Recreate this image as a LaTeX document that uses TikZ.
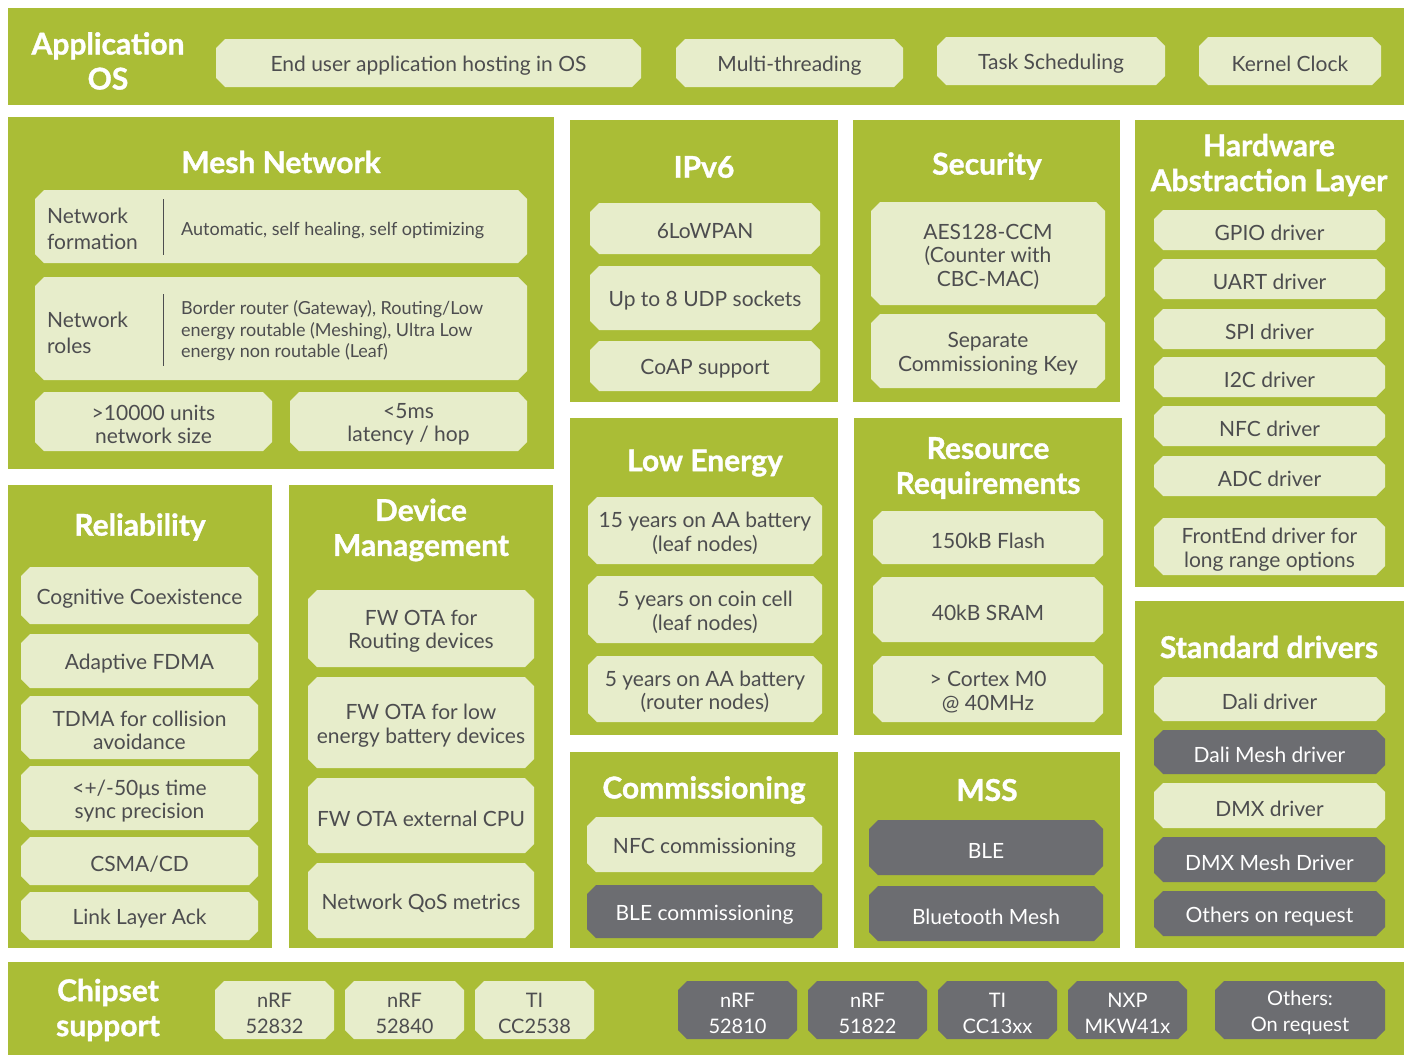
\documentclass[tikz,border=0pt]{standalone}
\usepackage{fontspec}
\setmainfont{Lato}
\newfontfamily\ttlfont[BoldFeatures={FakeBold=1.2}]{Lato}
\usetikzlibrary{shapes.misc}
\definecolor{pgreen}{RGB}{170,189,54}
\definecolor{plight}{RGB}{231,237,203}
\definecolor{pdark}{RGB}{108,109,113}
\definecolor{ptext}{RGB}{77,77,79}
\tikzset{
  panel/.style={rectangle, fill=pgreen, inner sep=0pt, outer sep=0pt},
  lightbox/.style={chamfered rectangle, chamfered rectangle xsep=9pt, chamfered rectangle angle=45,
    fill=plight, inner sep=0pt, outer sep=0pt, align=center, text=ptext,
    font=\fontsize{21}{23.5}\selectfont},
  darkbox/.style={lightbox, fill=pdark, text=white},
  ttl/.style={text=white, align=center, inner sep=0pt, font=\ttlfont\bfseries\fontsize{30}{35}\selectfont},
  lbl/.style={anchor=west, align=left, inner sep=0pt, text=ptext, font=\fontsize{21}{26}\selectfont},
  sml/.style={anchor=west, align=left, inner sep=0pt, text=ptext, font=\fontsize{18}{21.5}\selectfont},
  divider/.style={draw=ptext, line width=1pt},
  chip/.style={font=\fontsize{20}{26}\selectfont},
}
% \bx[style]{name}{x1}{y1}{x2}{y2}{text}: box, then its text nudged down
\newcommand\bx[7][lightbox]{%
  \pgfmathsetmacro\bxw{#5-#3}\pgfmathsetmacro\bxh{#6-#4}%
  \pgfmathsetmacro\bxcx{(#3+#5)/2}\pgfmathsetmacro\bxcy{(#4+#6)/2}%
  \node[#1, minimum width=\bxw pt, minimum height=\bxh pt] (#2) at (\bxcx,\bxcy) {\strut};
  \node[#1, shape=rectangle, fill=none, draw=none, inner sep=0pt, minimum width=0pt, minimum height=0pt] (#2-t) at ([yshift=-3pt]#2.center) {#7};}
\begin{document}
\begin{tikzpicture}[x=1pt,y=-1pt]
\useasboundingbox[fill=white] (0,0) rectangle (1409,1055);

% ---------- Application OS ----------
\bx[panel]{appp}{8}{8}{1404}{105}{}
\node[ttl] (appt) at (108,61) {Application\\OS};
\bx{app1}{216}{39}{641}{87}{End user application hosting in OS}
\bx{app2}{676}{39}{903}{87}{Multi-threading}
\bx{app3}{937}{37}{1165}{85}{Task Scheduling}
\bx{app4}{1199}{37}{1381}{85}{Kernel Clock}

% ---------- Mesh Network ----------
\bx[panel]{meshp}{8}{117}{554}{469}{}
\node[ttl] (mesht) at (281,162) {Mesh Network};
\bx{mesh1}{35}{190}{527}{263}{}
\bx{mesh2}{35}{277}{527}{380}{}
\bx{mesh3}{35}{392}{272}{451}{>10000 units\\network size}
\bx{mesh4}{290}{392}{527}{451}{<5ms\\latency / hop}
\node[lbl] (nf) at (47,229) {Network\\formation};
\draw[divider] (163,199) -- (163,255);
\node[sml] (nfd) at (181,231) {Automatic, self healing, self optimizing};
\node[lbl] (nr) at (47,333) {Network\\roles};
\draw[divider] (163,294) -- (163,366);
\node[sml] (nrd) at (181,331) {Border router (Gateway), Routing/Low\\energy routable (Meshing), Ultra Low\\energy non routable (Leaf)};

% ---------- IPv6 ----------
\bx[panel]{ipp}{570}{120}{838}{402}{}
\node[ttl] (ipt) at (704,167) {IPv6};
\bx{ip1}{590}{203}{820}{254}{6LoWPAN}
\bx{ip2}{590}{266}{820}{330}{Up to 8 UDP sockets}
\bx{ip3}{590}{341}{820}{391}{CoAP support}

% ---------- Security ----------
\bx[panel]{secp}{853}{120}{1120}{402}{}
\node[ttl] (sect) at (987,166) {Security};
\bx{sec1}{871}{202}{1105}{305}{AES128-CCM\\(Counter with\\CBC-MAC)}
\bx{sec2}{871}{314}{1105}{388}{Separate\\Commissioning Key}

% ---------- HAL ----------
\bx[panel]{halp}{1135}{120}{1404}{587}{}
\node[ttl] (halt) at (1269,165) {Hardware\\Abstraction Layer};
\bx{hal1}{1154}{210}{1385}{250}{GPIO driver}
\bx{hal2}{1154}{259}{1385}{299}{UART driver}
\bx{hal3}{1154}{309}{1385}{349}{SPI driver}
\bx{hal4}{1154}{357}{1385}{397}{I2C driver}
\bx{hal5}{1154}{406}{1385}{446}{NFC driver}
\bx{hal6}{1154}{456}{1385}{496}{ADC driver}
\bx{hal7}{1154}{518}{1385}{575}{FrontEnd driver for\\long range options}

% ---------- Reliability ----------
\bx[panel]{relp}{8}{485}{272}{948}{}
\node[ttl] (relt) at (140,527) {Reliability};
\bx{rel1}{21}{567}{258}{624}{Cognitive Coexistence}
\bx{rel2}{21}{634}{258}{688}{Adaptive FDMA}
\bx{rel3}{21}{696}{258}{759}{TDMA for collision\\avoidance}
\bx{rel4}{21}{766}{258}{830}{<+/-50μs time\\sync precision}
\bx{rel5}{21}{837}{258}{885}{CSMA/CD}
\bx{rel6}{21}{892}{258}{940}{Link Layer Ack}

% ---------- Device Management ----------
\bx[panel]{devp}{289}{485}{553}{948}{}
\node[ttl] (devt) at (421,530) {Device\\Management};
\bx{dev1}{308}{590}{534}{667}{FW OTA for\\Routing devices}
\bx{dev2}{308}{677}{534}{768}{FW OTA for low\\energy battery devices}
\bx{dev3}{308}{778}{534}{853}{FW OTA external CPU}
\bx{dev4}{308}{863}{534}{938}{Network QoS metrics}

% ---------- Low Energy ----------
\bx[panel]{lep}{570}{418}{838}{735}{}
\node[ttl] (let) at (705,463) {Low Energy};
\bx{le1}{588}{497}{822}{564}{15 years on AA battery\\(leaf nodes)}
\bx{le2}{588}{576}{822}{643}{5 years on coin cell\\(leaf nodes)}
\bx{le3}{588}{656}{822}{722}{5 years on AA battery\\(router nodes)}

% ---------- Resource Requirements ----------
\bx[panel]{resp}{854}{418}{1122}{735}{}
\node[ttl] (rest) at (988,468) {Resource\\Requirements};
\bx{res1}{873}{511}{1103}{564}{150kB Flash}
\bx{res2}{873}{577}{1103}{642}{40kB SRAM}
\bx{res3}{873}{656}{1103}{722}{> Cortex M0\\@ 40MHz}

% ---------- Commissioning ----------
\bx[panel]{comp}{570}{752}{838}{948}{}
\node[ttl] (comt) at (704,790) {Commissioning};
\bx{com1}{587}{817}{822}{872}{NFC commissioning}
\bx[darkbox]{com2}{587}{885}{822}{938}{BLE commissioning}

% ---------- MSS ----------
\bx[panel]{mssp}{854}{752}{1120}{948}{}
\node[ttl] (msst) at (987,790) {MSS};
\bx[darkbox]{mss1}{869}{820}{1103}{875}{BLE}
\bx[darkbox]{mss2}{869}{886}{1103}{941}{Bluetooth Mesh}

% ---------- Standard drivers ----------
\bx[panel]{stdp}{1135}{601}{1404}{948}{}
\node[ttl] (stdt) at (1269,647) {Standard drivers};
\bx{std1}{1154}{677}{1385}{721}{Dali driver}
\bx[darkbox]{std2}{1154}{730}{1385}{774}{Dali Mesh driver}
\bx{std3}{1154}{783}{1385}{828}{DMX driver}
\bx[darkbox]{std4}{1154}{837}{1385}{882}{DMX Mesh Driver}
\bx[darkbox]{std5}{1154}{891}{1385}{936}{Others on request}

% ---------- Chipset support ----------
\bx[panel]{chp}{8}{962}{1404}{1055}{}
\node[ttl] (cht) at (108,1010) {Chipset\\support};
\bx[lightbox,chip]{ch1}{215}{981}{334}{1039}{nRF\\52832}
\bx[lightbox,chip]{ch2}{345}{981}{464}{1039}{nRF\\52840}
\bx[lightbox,chip]{ch3}{475}{981}{594}{1039}{TI\\CC2538}
\bx[darkbox,chip]{ch4}{678}{981}{797}{1039}{nRF\\52810}
\bx[darkbox,chip]{ch5}{808}{981}{927}{1039}{nRF\\51822}
\bx[darkbox,chip]{ch6}{938}{981}{1057}{1039}{TI\\CC13xx}
\bx[darkbox,chip]{ch7}{1068}{981}{1187}{1039}{NXP\\MKW41x}
\bx[darkbox,chip]{ch8}{1215}{981}{1385}{1039}{Others:\\On request}
\end{tikzpicture}
\end{document}
